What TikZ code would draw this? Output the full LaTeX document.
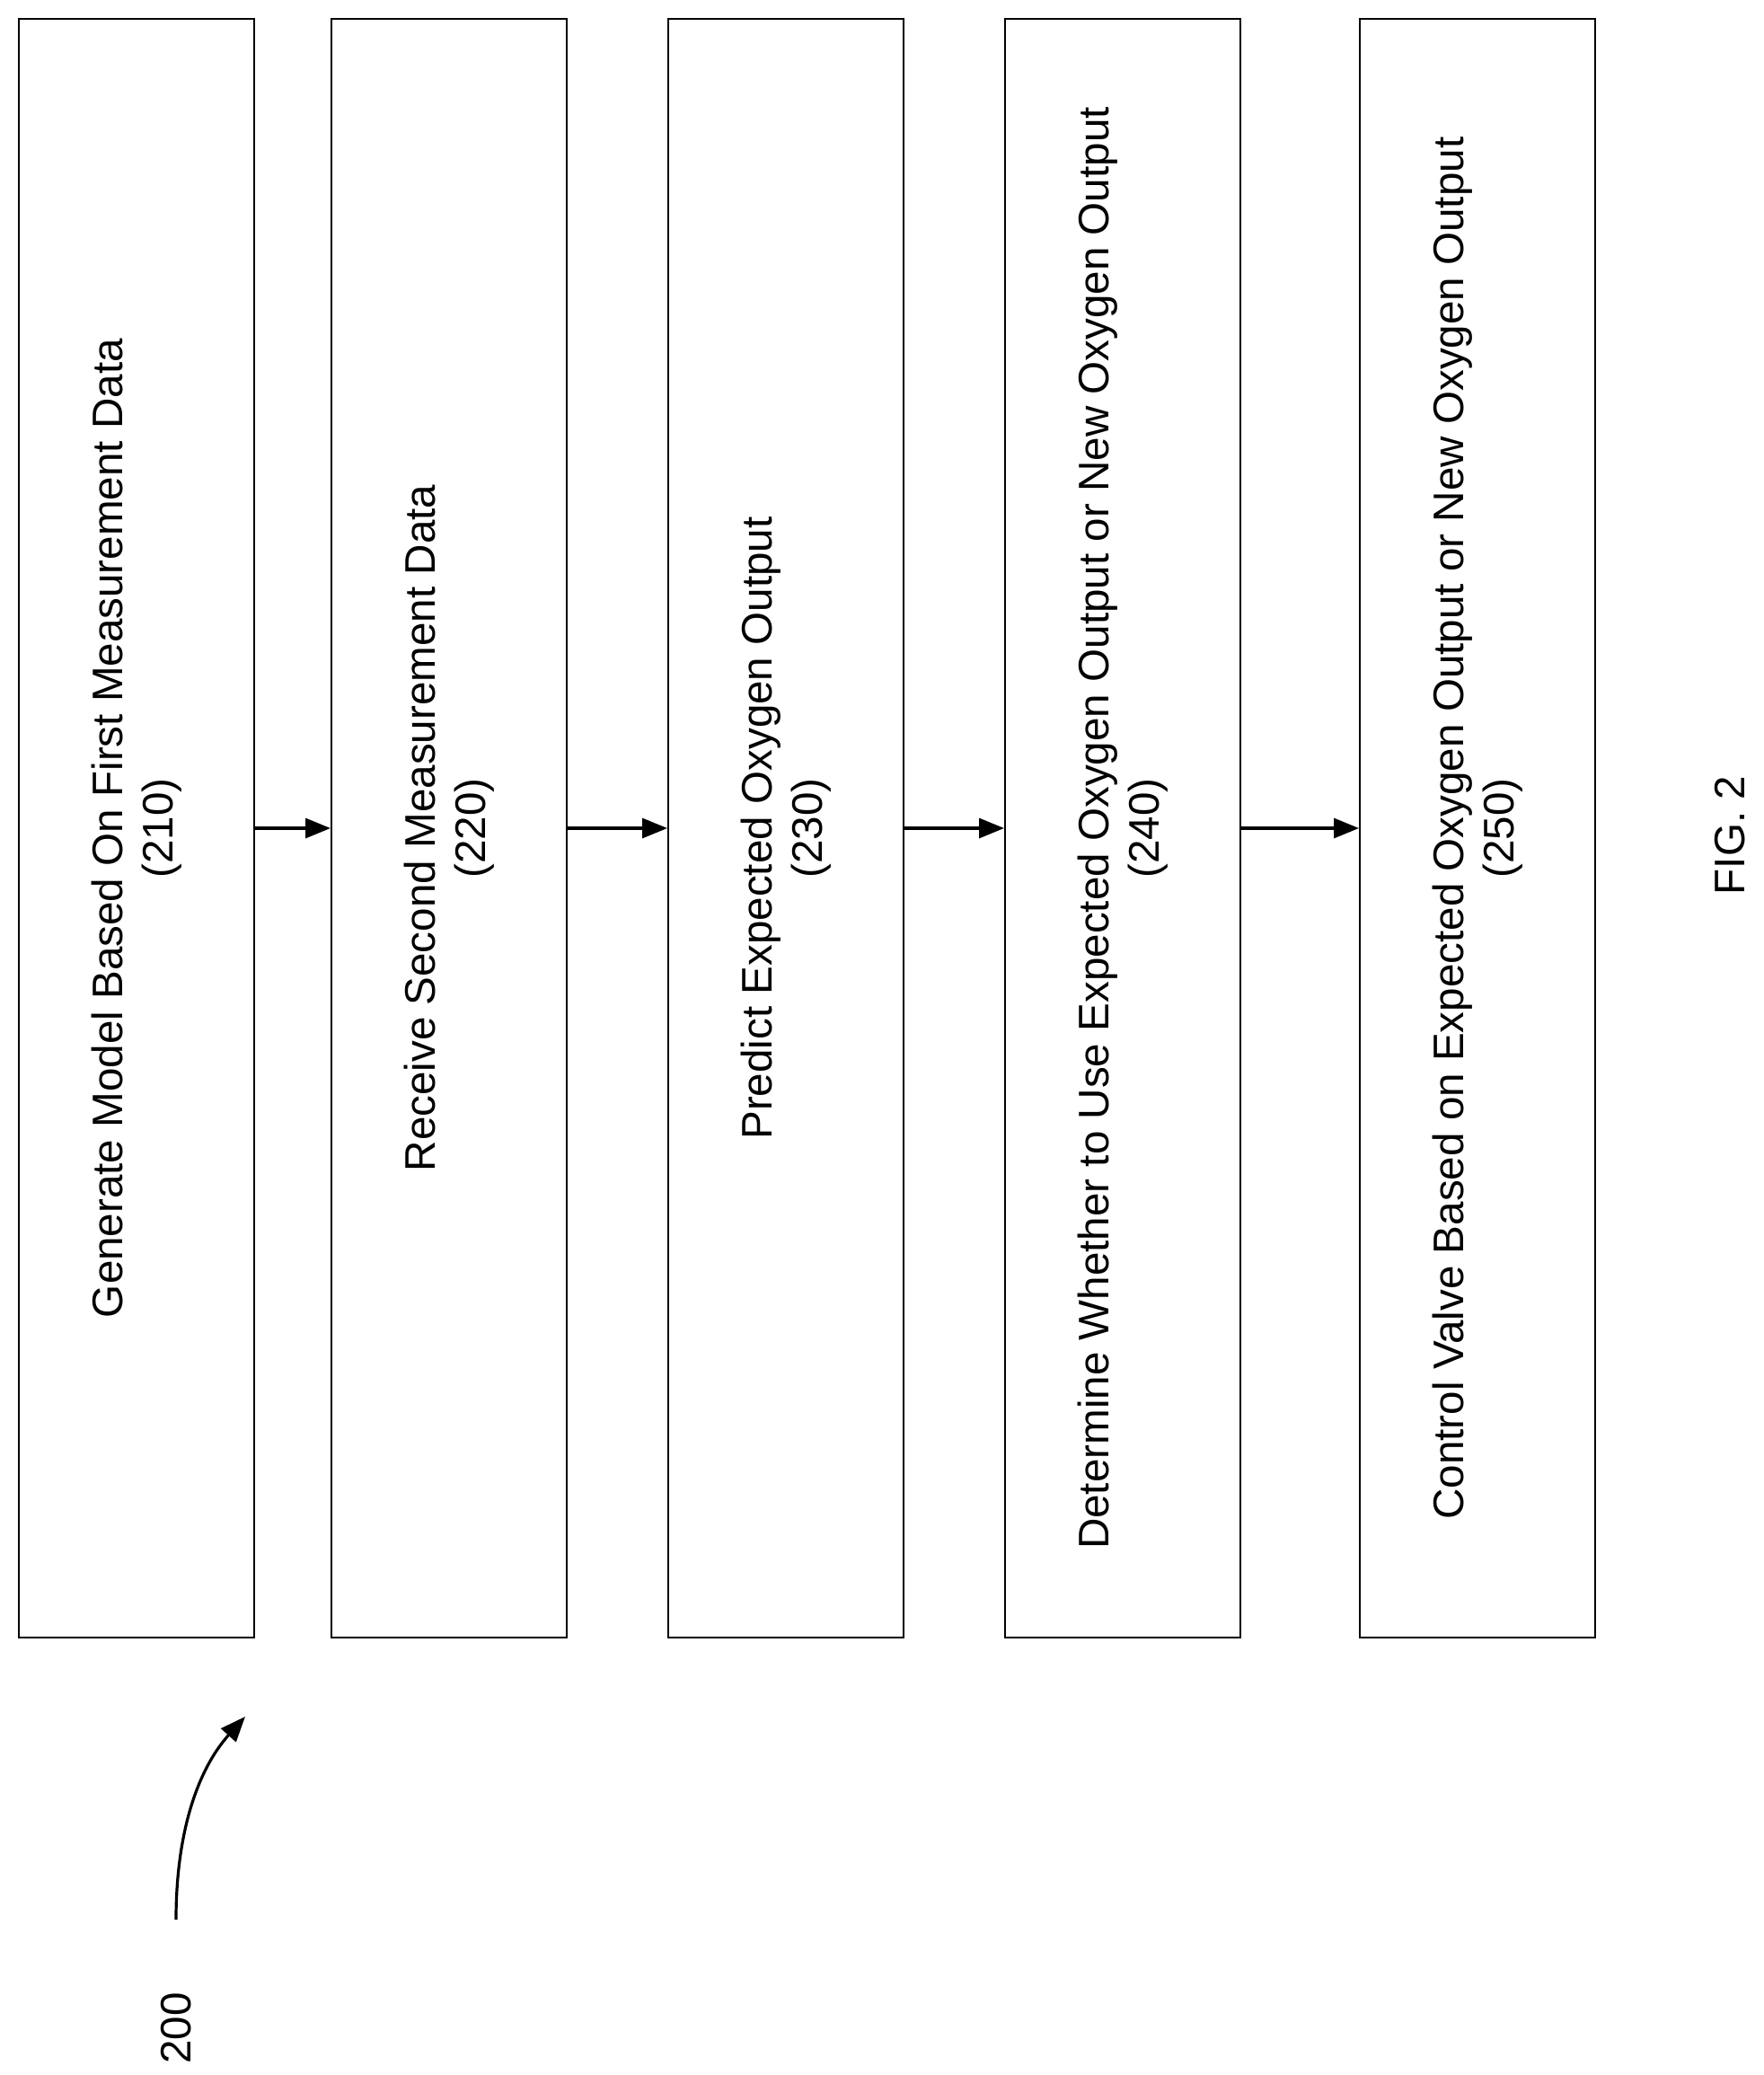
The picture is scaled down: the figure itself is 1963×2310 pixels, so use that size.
\documentclass[tikz,border=0pt]{standalone}
\usepackage{fontspec}
\setmainfont{Liberation Sans}
\usetikzlibrary{arrows.meta}
\begin{document}
\begin{tikzpicture}[x=0.5pt,y=-0.5pt,
  box/.style={draw,line width=1pt,minimum width=131pt,minimum height=901pt,inner sep=0pt},
  lbl/.style={rotate=90,align=center,font=\fontsize{23.8}{28}\selectfont},
  arr/.style={-{Triangle[length=14pt,width=11pt]},line width=1.6pt}]
\useasboundingbox (0,0) rectangle (1963,2310);
\node[box] (b1) at (152,922) {};
\node[box] (b2) at (500,922) {};
\node[box] (b3) at (875,922) {};
\node[box] (b4) at (1250,922) {};
\node[box] (b5) at (1645,922) {};
\node[lbl] (t1) at (b1) {Generate Model Based On First Measurement Data\\(210)};
\node[lbl] (t2) at (b2) {Receive Second Measurement Data\\(220)};
\node[lbl] (t3) at (b3) {Predict Expected Oxygen Output\\(230)};
\node[lbl] (t4) at (b4) {Determine Whether to Use Expected Oxygen Output or New Oxygen Output\\(240)};
\node[lbl] (t5) at (b5) {Control Valve Based on Expected Oxygen Output or New Oxygen Output\\(250)};
\draw[arr] (b1.east) -- (b2.west);
\draw[arr] (b2.east) -- (b3.west);
\draw[arr] (b3.east) -- (b4.west);
\draw[arr] (b4.east) -- (b5.west);
\node[lbl] (fig) at (1926,930) {FIG. 2};
\node[lbl] (n200) at (196,2258) {200};
\coordinate (cs) at (196,2137);
\coordinate (ce) at (273,1911);
\draw[arr] (cs) .. controls (196,2040) and (220,1970) .. (ce);
\end{tikzpicture}
\end{document}
